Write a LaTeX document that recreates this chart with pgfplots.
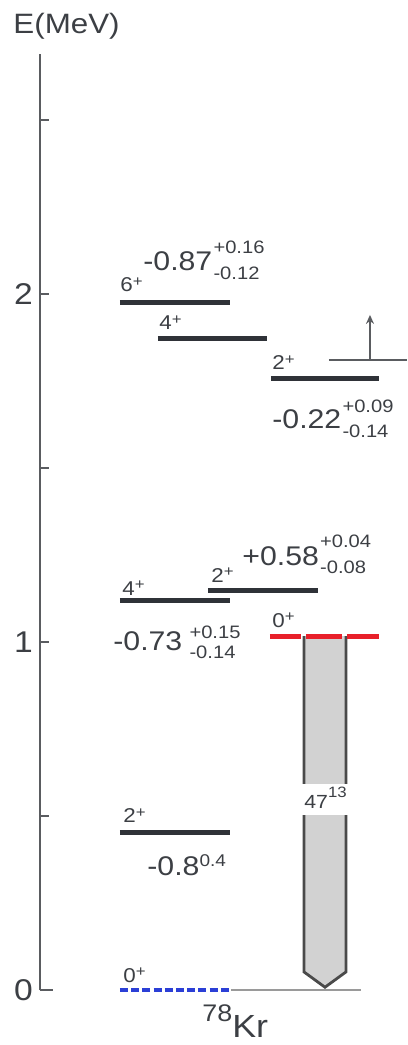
\documentclass[border=0pt]{standalone}
\usepackage{pgfplots}
\pgfplotsset{compat=1.18}
\usetikzlibrary{arrows.meta}
\usepackage{fontspec}
\setmainfont[FakeStretch=1.12]{Liberation Sans}
\definecolor{axisc}{HTML}{5A5C60}
\definecolor{textc}{HTML}{3C3F44}
\definecolor{levc}{HTML}{2F3238}
\definecolor{redc}{HTML}{E8202A}
\definecolor{bluec}{HTML}{2B3FD6}
\definecolor{arrfill}{HTML}{D2D2D2}
\definecolor{arrc}{HTML}{4A4A4A}
\definecolor{basec}{HTML}{9A9A9A}
\newcommand\fs[1]{\fontsize{#1}{#1}\selectfont}
\newcommand\spin[1]{{\fs{10}#1\raisebox{2.9pt}{\fs{7.5}+}}}
\newcommand\val[5]{{\fs{13.5}#1}\hspace{0.6pt}\makebox[0pt][l]{\raisebox{#4}{\fs{9}#2}}\raisebox{#5}{\fs{9}#3}}
\begin{document}
\begin{tikzpicture}
\begin{axis}[
  x=0.5pt, y=174pt,
  xmin=40, xmax=407, ymin=0, ymax=2.69,
  axis x line=none, axis y line*=left,
  clip=false, no markers,
  ytick={0,0.5,1,1.5,2,2.5},
  yticklabels={0,,1,,2,},
  tick align=inside, major tick length=4.5pt,
  y axis line style={line width=1.4pt, color=axisc},
  ytick style={line width=0.9pt, color=axisc},
  yticklabel style={font=\fs{15}, text=textc},
  /pgf/number format/assume math mode=true,
]
% bounding box of the whole picture
\path[draw=none] (axis cs:0,-0.158) rectangle (axis cs:407,2.845);
% foot of the energy axis
\addplot[draw=axisc, line width=1.4pt] coordinates {(40,0) (53,0)};
% ground-state baseline
\addplot[draw=basec, line width=1.2pt] coordinates {(231,0) (361,0)};
% E0 arrow
\addplot[fill=arrfill, draw=none] coordinates {(304,1.017) (304,0.052) (325,0.008) (346,0.052) (346,1.017)} -- cycle;
\addplot[draw=arrc, line width=1.4pt] coordinates {(304,1.017) (304,0.052) (325,0.008) (346,0.052) (346,1.017)};
\fill[white] (axis cs:301,0.503) rectangle (axis cs:350,0.592);
% levels
\addplot[draw=levc, line width=2.5pt] coordinates {(120,1.977) (230,1.977)};
\addplot[draw=levc, line width=2.5pt] coordinates {(158,1.871) (267,1.871)};
\addplot[draw=levc, line width=2.5pt] coordinates {(271,1.756) (379,1.756)};
\addplot[draw=levc, line width=2.5pt] coordinates {(120,1.118) (230,1.118)};
\addplot[draw=levc, line width=2.5pt] coordinates {(208,1.147) (318,1.147)};
\addplot[draw=levc, line width=2.5pt] coordinates {(120,0.454) (230,0.454)};
\addplot[draw=redc, line width=2.5pt] coordinates {(270,1.017) (301,1.017)};
\addplot[draw=redc, line width=2.5pt] coordinates {(306,1.017) (342,1.017)};
\addplot[draw=redc, line width=2.5pt] coordinates {(347,1.017) (379,1.017)};
\addplot[draw=bluec, line width=2pt, dash pattern=on 4pt off 1.6pt] coordinates {(120,0) (231,0)};
% small arrow upper right
\addplot[draw=axisc, line width=0.8pt] coordinates {(329,1.81) (407,1.81)};
\addplot[draw=axisc, line width=0.8pt, -{Stealth[length=4.5pt,width=4pt]}] coordinates {(370,1.81) (370,1.94)};
% labels
\begin{scope}[every node/.style={anchor=base west, inner sep=0pt, text=textc}]
\node at (axis cs:13,2.750) {\fs{14}E(MeV)};
\node at (axis cs:120,2.006) {\spin{6}};
\node at (axis cs:143,2.069) {\val{-0.87}{+0.16}{-0.12}{8.5pt}{-4.5pt}};
\node at (axis cs:159,1.897) {\spin{4}};
\node at (axis cs:272,1.782) {\spin{2}};
\node at (axis cs:272,1.615) {\val{-0.22}{+0.09}{-0.14}{8pt}{-4.5pt}};
\node at (axis cs:122,1.135) {\spin{4}};
\node at (axis cs:211,1.172) {\spin{2}};
\node at (axis cs:242,1.221) {\val{+0.58}{+0.04}{-0.08}{9pt}{-4pt}};
\node at (axis cs:272,1.043) {\spin{0}};
\node at (axis cs:113,0.977) {\val{-0.73\hspace{3pt}}{+0.15}{-0.14}{6pt}{-4pt}};
\node at (axis cs:123,0.480) {\spin{2}};
\node at (axis cs:147,0.330) {{\fs{13.5}-0.8}\raisebox{4.5pt}{\fs{8.5}0.4}};
\node at (axis cs:123,0.023) {\spin{0}};
\node at (axis cs:304,0.523) {{\fs{9.5}47}\raisebox{5.5pt}{\fs{7.5}13}};
\node at (axis cs:202,-0.135) {\raisebox{8pt}{\fs{12}78}{\fs{16}Kr}};
\end{scope}
\end{axis}
\end{tikzpicture}
\end{document}
